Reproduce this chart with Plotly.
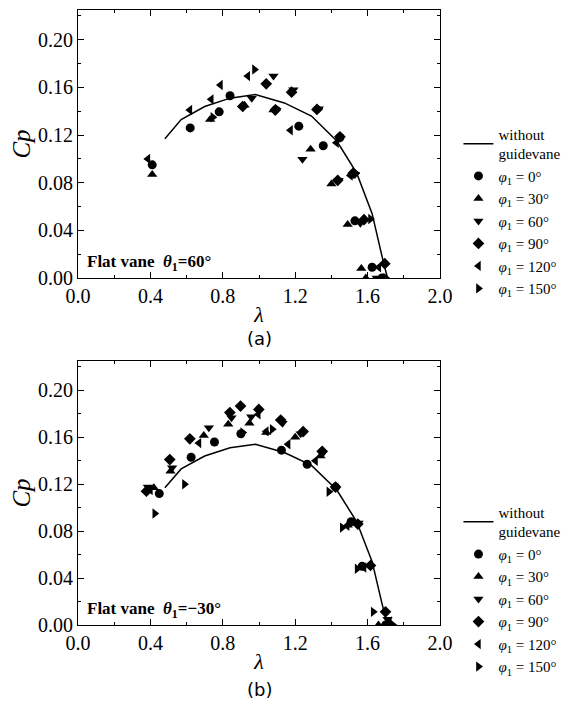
import plotly.graph_objects as go
from plotly.subplots import make_subplots

# ---- baseline (without guidevane) ----
base_x = [0.48, 0.57, 0.70, 0.84, 0.98, 1.14, 1.29, 1.43, 1.54, 1.625, 1.68, 1.71]
base_y = [0.117, 0.133, 0.144, 0.151, 0.154, 0.147, 0.136, 0.115, 0.088, 0.054, 0.018, 0.0]

# ---- (a) Flat vane theta1 = 60 deg ----
a_phi0_x = [0.41, 0.62, 0.78, 0.84, 1.22, 1.355, 1.447, 1.53, 1.625, 1.68]
a_phi0_y = [0.095, 0.126, 0.1395, 0.153, 0.1275, 0.111, 0.118, 0.048, 0.009, 0.0]
a_phi30_x = [0.41, 0.73, 0.92, 1.08, 1.285, 1.40, 1.49, 1.565, 1.59]
a_phi30_y = [0.087, 0.133, 0.145, 0.141, 0.108, 0.079, 0.045, 0.008, 0.0]
a_phi60_x = [0.96, 1.08, 1.19, 1.24, 1.33, 1.44, 1.53, 1.56, 1.65]
a_phi60_y = [0.151, 0.1695, 0.158, 0.0996, 0.142, 0.082, 0.087, 0.046, 0.0]
a_phi90_x = [0.91, 1.04, 1.09, 1.18, 1.32, 1.447, 1.435, 1.52, 1.58, 1.695]
a_phi90_y = [0.144, 0.163, 0.141, 0.156, 0.1415, 0.1185, 0.082, 0.088, 0.049, 0.012]
a_phi120_x = [0.386, 0.618, 0.736, 0.787, 0.938, 1.174, 1.428, 1.505, 1.662]
a_phi120_y = [0.100, 0.141, 0.150, 0.162, 0.1695, 0.124, 0.1135, 0.086, 0.009]
a_phi150_x = [0.745, 0.975, 1.10, 1.33, 1.535, 1.616, 1.70]
a_phi150_y = [0.135, 0.175, 0.142, 0.142, 0.088, 0.0495, 0.0]

# ---- (b) Flat vane theta1 = -30 deg ----
b_phi0_x = [0.449, 0.625, 0.754, 0.90, 1.124, 1.266, 1.423, 1.509, 1.57, 1.70]
b_phi0_y = [0.112, 0.143, 0.156, 0.163, 0.149, 0.137, 0.1175, 0.088, 0.050, 0.0]
b_phi30_x = [0.419, 0.511, 0.695, 0.830, 0.947, 1.04, 1.20, 1.34, 1.49, 1.66]
b_phi30_y = [0.117, 0.131, 0.1615, 0.171, 0.172, 0.164, 0.160, 0.144, 0.085, 0.0]
b_phi60_x = [0.386, 0.52, 0.723, 0.848, 0.957, 1.13, 1.23, 1.35, 1.55, 1.71]
b_phi60_y = [0.1175, 0.134, 0.168, 0.1767, 0.1775, 0.172, 0.163, 0.146, 0.087, 0.005]
b_phi90_x = [0.378, 0.507, 0.618, 0.839, 0.898, 0.999, 1.12, 1.244, 1.349, 1.423, 1.546, 1.616, 1.699]
b_phi90_y = [0.114, 0.141, 0.1587, 0.181, 0.1866, 0.1837, 0.1747, 0.1648, 0.148, 0.1175, 0.086, 0.0507, 0.0112]
b_phi120_x = [0.40, 0.668, 0.996, 1.04, 1.161, 1.312, 1.487, 1.58, 1.72]
b_phi120_y = [0.115, 0.155, 0.1795, 0.165, 0.154, 0.140, 0.0845, 0.049, 0.003]
b_phi150_x = [0.424, 0.588, 0.91, 1.073, 1.386, 1.46, 1.542, 1.631, 1.74]
b_phi150_y = [0.095, 0.120, 0.164, 0.1668, 0.1135, 0.083, 0.048, 0.0112, 0.0]

phi_labels = ["0°", "30°", "60°", "90°", "120°", "150°"]
symbols = ["circle", "triangle-up", "triangle-down", "diamond", "triangle-left", "triangle-right"]
panel_titles = ["(a)", "(b)"]
vane_labels = ["60°", "−30°"]
x_ticks = [0.0, 0.4, 0.8, 1.2, 1.6, 2.0]
y_ticks = [0.00, 0.04, 0.08, 0.12, 0.16, 0.20]

serif = "Liberation Serif"

fig = make_subplots(rows=2, cols=1, vertical_spacing=0.0)

panels = [
    [(a_phi0_x, a_phi0_y), (a_phi30_x, a_phi30_y), (a_phi60_x, a_phi60_y),
     (a_phi90_x, a_phi90_y), (a_phi120_x, a_phi120_y), (a_phi150_x, a_phi150_y)],
    [(b_phi0_x, b_phi0_y), (b_phi30_x, b_phi30_y), (b_phi60_x, b_phi60_y),
     (b_phi90_x, b_phi90_y), (b_phi120_x, b_phi120_y), (b_phi150_x, b_phi150_y)],
]
legends = ["legend", "legend2"]

for p, series in enumerate(panels):
    row = p + 1
    fig.add_trace(go.Scatter(
        x=base_x, y=base_y, mode="lines", line=dict(color="black", width=1.5),
        name="without<br>guidevane", legend=legends[p]), row=row, col=1)
    for s, (xs, ys) in enumerate(series):
        fig.add_trace(go.Scatter(
            x=xs, y=ys, mode="markers",
            marker=dict(symbol=symbols[s], color="black", size=9, line=dict(width=0)),
            name="<i>φ</i><sub>1</sub> = " + phi_labels[s], legend=legends[p]),
            row=row, col=1)

axis_common = dict(
    showline=True, linecolor="black", linewidth=1.2, mirror="ticks",
    ticks="inside", ticklen=6, tickwidth=1, tickcolor="black",
    showgrid=False, zeroline=False, automargin=False,
    tickfont=dict(family=serif, size=20, color="black"),
)
for r in (1, 2):
    fig.update_xaxes(range=[0, 2.0], tickvals=x_ticks, ticktext=[f"{v:.1f}" for v in x_ticks],
                     minor=dict(ticks="inside", ticklen=3, dtick=0.2, tickcolor="black", showgrid=False),
                     title=dict(text="<i>λ</i>", font=dict(family=serif, size=22, color="black"), standoff=0),
                     row=r, col=1, **axis_common)
    fig.update_yaxes(range=[0, 0.225], tickvals=y_ticks, ticktext=[f"{v:.2f}" for v in y_ticks],
                     minor=dict(ticks="inside", ticklen=3, dtick=0.02, tickcolor="black", showgrid=False),
                     title=dict(text="<i>Cp</i>", font=dict(family=serif, size=25, color="black"), standoff=0),
                     row=r, col=1, **axis_common)

# domains (pixel-matched)
fig.update_layout(
    xaxis=dict(domain=[0, 1]), xaxis2=dict(domain=[0, 1]),
    yaxis=dict(domain=[0.5642, 1.0]), yaxis2=dict(domain=[0.0, 0.4293]),
)

annotations = []
panel_label_y = [-0.225, -0.245]
for p, (xref, yref) in enumerate([("x domain", "y domain"), ("x2 domain", "y2 domain")]):
    annotations.append(dict(
        x=0.02, y=0.055, xref=xref, yref=yref, xanchor="left", yanchor="middle", showarrow=False,
        text="<b>Flat vane  <i>θ</i><sub>1</sub>=" + vane_labels[p] + "</b>",
        font=dict(family=serif, size=17, color="black")))
    annotations.append(dict(
        x=0.5, y=panel_label_y[p], xref=xref, yref=yref, xanchor="center", yanchor="middle", showarrow=False,
        text=panel_titles[p], font=dict(family="DejaVu Sans", size=18, color="black")))

legend_style = dict(
    xanchor="left", yanchor="top", bgcolor="rgba(0,0,0,0)", borderwidth=0,
    font=dict(family=serif, size=15, color="black"), itemwidth=30, tracegroupgap=0,
)
fig.update_layout(
    width=568, height=701,
    margin=dict(l=78, r=128, t=10, b=76, autoexpand=False),
    paper_bgcolor="white", plot_bgcolor="white",
    showlegend=True,
    legend=dict(x=1.051, y=0.825, **legend_style),
    legend2=dict(x=1.051, y=0.21, **legend_style),
    annotations=annotations,
)

fig.write_html("out.html", config={"displayModeBar": False},
               post_script="document.body.style.margin='0';")
